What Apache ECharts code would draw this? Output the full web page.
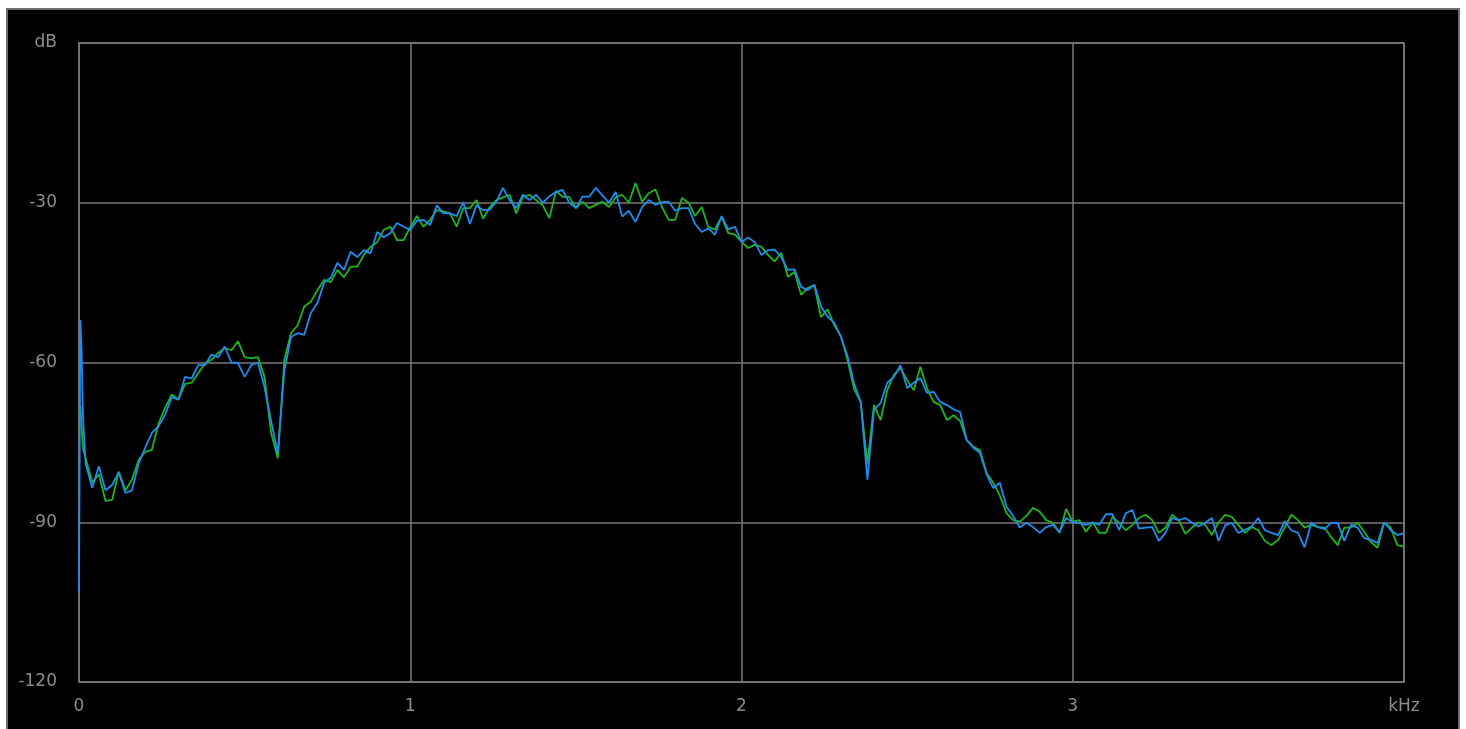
<!DOCTYPE html>
<html>
<head>
<meta charset="utf-8">
<script src="https://cdn.jsdelivr.net/npm/echarts@6/dist/echarts.min.js"></script>
<style>
  html, body { margin:0; padding:0; background:#ffffff; width:1466px; height:729px; overflow:hidden; }
  #frame { position:absolute; left:6px; top:8px; width:1450px; height:730px; border:2px solid #6e6e6e; background:#000; }
  #c { position:absolute; left:0; top:0; width:1466px; height:729px; }
</style>
</head>
<body>
<div id="frame"></div>
<div id="c"></div>
<script>
// x tick labels and y tick labels
const xTickValues = [0, 1, 2, 3, 4];
const xTickLabels = ['0', '1', '2', '3', 'kHz'];
const yTickValues = [-120, -90, -60, -30, 0];
const yTickLabels = ['-120', '-90', '-60', '-30', 'dB'];

// frequency sampling (kHz): head points near DC, then every 0.02 kHz
const headFreq = [0, 0.004, 0.008, 0.012];
const freqStep = 0.02;

// dB values
const greenHead = [-69, -68, -72, -76];
const blueHead = [-103, -52, -58, -70];

const greenValues = [
-78,-82.5,-81,-86,-85.8,-80.5,-84,-82,-78.3,-76.8,
-76.4,-71.5,-68.5,-66,-67,-64,-63.8,-62,-60.2,-59.5,
-58.2,-57.3,-57.7,-56,-59,-59.2,-59,-62.7,-73.2,-78,
-59.5,-54.5,-53,-49.5,-48.6,-46.4,-44.5,-44.9,-42.6,-44,
-42,-42,-39.8,-38.3,-37.4,-35.1,-34.5,-37,-37,-34.6,
-32.5,-34.5,-33.2,-31.4,-31.6,-32,-34.5,-31,-31,-29.5,
-33,-30.8,-29.5,-29,-28.5,-32,-28.9,-28.5,-29.5,-30.5,
-32.9,-27.8,-28.9,-28.9,-31,-29.8,-31,-30.4,-29.8,-30.8,
-29,-28.5,-30,-26.3,-29.8,-28.2,-27.5,-30.8,-33.2,-33.2,
-29.1,-30,-32.5,-30.8,-34.6,-35,-32.6,-35.7,-36,-37.3,
-38.5,-37.9,-38.3,-39.8,-41,-39.4,-43.9,-43,-47.3,-46,
-45.5,-51.5,-50,-53,-55,-59.5,-65,-67.5,-79,-68,
-70.8,-65.2,-62.3,-61,-63.3,-65.2,-60.8,-64.8,-67.4,-68,
-70.8,-69.9,-71,-74.6,-75.8,-76.5,-80.8,-82.6,-85,-88.3,
-89.6,-89.9,-88.8,-87.3,-88,-89.6,-90.1,-92,-87.5,-89.9,
-89.6,-91.8,-90,-92,-92,-89,-90.1,-91.5,-90.5,-89.2,
-88.6,-89.6,-92,-91,-88.6,-89.6,-92.2,-91,-90,-90.5,
-92.4,-90,-88.6,-89,-90.5,-92,-90.9,-91.5,-93.5,-94.3,
-93.3,-90.9,-88.6,-89.6,-91,-90.5,-90.9,-91,-92.8,-94.3,
-91,-91,-90.1,-91.8,-93.7,-94.8,-90.1,-91,-94.3,-94.6
];

const blueValues = [
-79,-83.5,-79.5,-84,-83,-80.6,-84.5,-84,-79,-76,
-73.2,-72,-69.8,-66.5,-67,-62.7,-63,-60.5,-60.5,-58.5,
-59,-57,-60,-60.1,-62.7,-60.5,-60,-64.6,-71,-77,
-61.5,-55.2,-54.5,-54.8,-50.7,-48.8,-45,-44.1,-41.3,-42.6,
-39.2,-40.2,-38.9,-39.5,-35.5,-36.5,-35.7,-33.8,-34.5,-35.1,
-33.4,-33.2,-34.2,-30.5,-32,-32,-32.5,-29.9,-34,-30.5,
-31.4,-31.3,-29.8,-27.2,-29.5,-31,-28.5,-29.5,-28.5,-30,
-28.8,-28,-27.6,-30,-31,-28.8,-28.9,-27.2,-28.6,-30,
-28,-32.6,-31.5,-33.6,-30.8,-29.5,-30.4,-29.9,-29.8,-31.5,
-31,-31,-34,-35.5,-34.8,-36,-32.5,-35,-34.5,-37.4,
-36.5,-37.4,-39.8,-38.9,-38.8,-40.2,-42.6,-42.5,-45.8,-46.4,
-45.4,-49.5,-51.4,-52.5,-55.2,-58.8,-64,-67.4,-82,-68.9,
-67.6,-63.8,-62.7,-60.5,-64.8,-63.8,-62.9,-65.7,-65.5,-67.4,
-68,-68.8,-69.3,-74.6,-76,-77,-81,-83.6,-82.6,-87.1,
-88.8,-91,-90.1,-90.9,-92,-90.9,-90.5,-91.8,-89.2,-90,
-90.1,-90.5,-90,-90.5,-88.5,-88.5,-91.5,-88.3,-87.7,-91.2,
-91,-90.9,-93.5,-92,-89.2,-89.6,-89.2,-90.1,-90.8,-90.1,
-89.2,-93.5,-90.6,-90.1,-92,-91.4,-90.8,-89.2,-91.5,-92,
-92.4,-89.8,-91.5,-92,-94.7,-90.1,-90.9,-91.3,-90.1,-90.2,
-93.5,-90.5,-91,-93,-93.3,-93.9,-90,-91.5,-92.4,-92
];

function toPairs(head, vals) {
  const out = [];
  head.forEach((v, k) => out.push([headFreq[k], v]));
  vals.forEach((v, k) => out.push([+(freqStep * (k + 1)).toFixed(3), v]));
  return out;
}

const gridColor = '#7a7a7a';
const labelColor = '#8c8c8c';

const chart = echarts.init(document.getElementById('c'));
chart.setOption({
  backgroundColor: 'transparent',
  animation: false,
  grid: { left: 79, right: 62, top: 43, bottom: 47, show: true, borderColor: gridColor, borderWidth: 1.5, backgroundColor: 'transparent' },
  xAxis: {
    type: 'value', min: 0, max: 4, interval: 1,
    axisLine: { show: false }, axisTick: { show: false },
    splitLine: { show: true, lineStyle: { color: gridColor, width: 1.5 } },
    axisLabel: {
      color: labelColor, fontSize: 17, fontFamily: 'DejaVu Sans', margin: 16,
      formatter: v => { const k = xTickValues.indexOf(v); return k >= 0 ? xTickLabels[k] : ''; }
    }
  },
  yAxis: {
    type: 'value', min: -120, max: 0, interval: 30,
    axisLine: { show: false }, axisTick: { show: false },
    splitLine: { show: true, lineStyle: { color: gridColor, width: 1.5 } },
    axisLabel: {
      color: labelColor, fontSize: 17, fontFamily: 'DejaVu Sans', margin: 22,
      formatter: v => { const k = yTickValues.indexOf(v); return k >= 0 ? yTickLabels[k] : ''; }
    }
  },
  series: [
    { type: 'line', data: toPairs(greenHead, greenValues), showSymbol: false, lineStyle: { color: '#1fb41f', width: 1.8 }, itemStyle: { color: '#1fb41f' } },
    { type: 'line', data: toPairs(blueHead, blueValues), showSymbol: false, lineStyle: { color: '#1e8cf0', width: 1.8 }, itemStyle: { color: '#1e8cf0' } }
  ]
});
</script>
</body>
</html>
